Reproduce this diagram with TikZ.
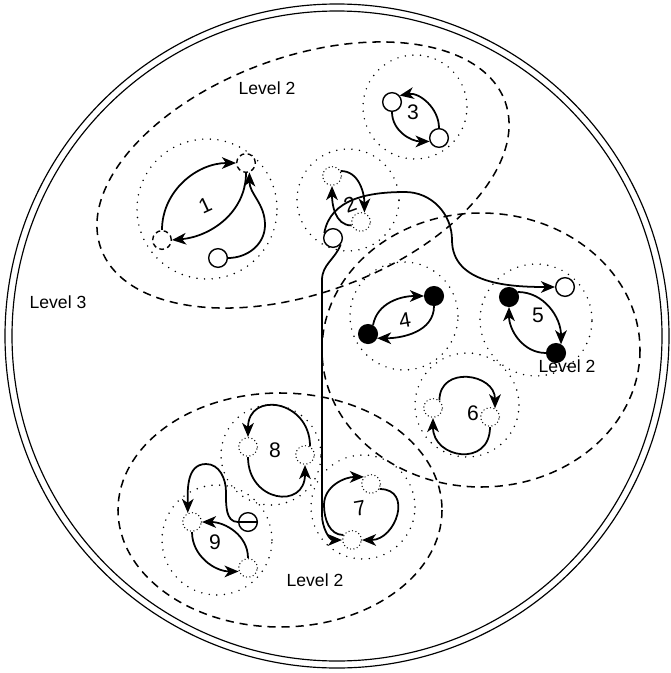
\documentclass[tikz,border=0pt]{standalone}
\usepackage{fontspec}
\setmainfont{Liberation Sans}
\usetikzlibrary{arrows.meta}

\begin{document}
\begin{tikzpicture}[x=0.3mm, y=-0.3mm,
    lvlRing/.style={draw, circle, line width=1.4pt, line cap=round, dash pattern=on 0pt off 6.5pt, minimum size=#1, inner sep=0pt},
    lvlProc/.style={draw, circle, line width=1.2pt, minimum size=5.6mm, inner sep=0pt, fill=white},
    lvlFull/.style={lvlProc, fill=black},
    lvlIdle/.style={lvlProc, line cap=round, dash pattern=on 0pt off 3pt},
    lvlGap/.style={lvlProc, dash pattern=on 4pt off 3pt},
    lvlCross/.style={lvlProc, path picture={\draw[line width=1.2pt] (path picture bounding box.west) -- (path picture bounding box.east);}},
    lvlNum/.style={font=\fontsize{18}{20}\selectfont},
    lvlText/.style={font=\fontsize{15}{18}\selectfont},
    lvlTwo/.style={line width=1.3pt, dash pattern=on 7pt off 5pt},
    lvlArrow/.style={-{Stealth[length=12pt, width=10pt, inset=3.5pt]}, line width=1.5pt}]

    \useasboundingbox (0,0) rectangle (670,673);

    \draw[line width=1pt] (337,336) circle [radius=332];
    \draw[line width=1pt] (337,336) circle [radius=325];
    \node[lvlText] (lvl3) at (58,302) {Level 3};

    \draw[lvlTwo, rotate around={20:(303,175)}] (303,175) ellipse [x radius=215, y radius=118];
    \draw[lvlTwo] (481,350) ellipse [x radius=159, y radius=137];
    \draw[lvlTwo] (280,510) ellipse [x radius=162, y radius=117];
    \node[lvlText] (lvl2a) at (267,88) {Level 2};
    \node[lvlText] (lvl2b) at (567,366) {Level 2};
    \node[lvlText] (lvl2c) at (315,580) {Level 2};

    \node[lvlRing=42mm] (c1) at (207,209) {};
    \node[lvlRing=30.6mm] (c2) at (348,200) {};
    \node[lvlRing=31.2mm] (c3) at (415,107) {};
    \node[lvlRing=32.4mm] (c4) at (404,316) {};
    \node[lvlRing=33.6mm] (c5) at (536,320) {};
    \node[lvlRing=31.2mm] (c6) at (467,405) {};
    \node[lvlRing=31.2mm] (c7) at (363,507) {};
    \node[lvlRing=30mm] (c8) at (271,455) {};
    \node[lvlRing=33mm] (c9) at (217,540) {};

    \node[lvlNum, rotate=25] (t1) at (205,205) {1};
    \node[lvlNum, rotate=20] (t2) at (350,205) {2};
    \node[lvlNum] (t3) at (413,112) {3};
    \node[lvlNum, rotate=10] (t4) at (405,320) {4};
    \node[lvlNum] (t5) at (538,315) {5};
    \node[lvlNum] (t6) at (473,413) {6};
    \node[lvlNum, rotate=10] (t7) at (360,508) {7};
    \node[lvlNum] (t8) at (275,450) {8};
    \node[lvlNum] (t9) at (215,542) {9};

    \node[lvlGap] (n1a) at (246,163) {};
    \node[lvlGap] (n1b) at (162,240) {};
    \node[lvlProc] (n1c) at (218,258) {};
    \node[lvlIdle] (n2a) at (332,176) {};
    \node[lvlIdle] (n2b) at (361,222) {};
    \node[lvlProc] (n2c) at (333,238) {};
    \node[lvlProc] (n3a) at (392,102) {};
    \node[lvlProc] (n3b) at (439,138) {};
    \node[lvlFull] (n4a) at (368,334) {};
    \node[lvlFull] (n4b) at (434,296) {};
    \node[lvlFull] (n5a) at (509,297) {};
    \node[lvlProc] (n5b) at (565,287) {};
    \node[lvlFull] (n5c) at (556,353) {};
    \node[lvlIdle] (n6a) at (433,408) {};
    \node[lvlIdle] (n6b) at (490,417) {};
    \node[lvlIdle] (n7a) at (371,484) {};
    \node[lvlIdle] (n7b) at (352,540) {};
    \node[lvlIdle] (n8a) at (248,447) {};
    \node[lvlIdle] (n8b) at (305,455) {};
    \node[lvlIdle] (n9a) at (192,522) {};
    \node[lvlIdle] (n9b) at (248,568) {};
    \node[lvlCross] (n9c) at (248,522) {};

    \draw[lvlArrow] (n1b.north) to[out=90, in=180] (n1a.west);
    \draw[lvlArrow] (n1a.south) to[out=-90, in=5] (n1b.east);
    \draw[lvlArrow] (n1c.east) to[out=0, in=-90] (265,225) to[out=90, in=-90] (n1a.-70);

    \draw[lvlArrow] (n2a.30) to[out=0, in=90] (n2b.70);
    \draw[lvlArrow] (n2b.200) to[out=180, in=-90] (n2a.south);
    \draw[lvlArrow] (n2c.150) to[out=80, in=180] (405,192) to[out=0, in=90] (452,240) to[out=-90, in=180] (n5b.west);
    \draw[lvlArrow] (n2c.-40) to[out=-110, in=90] (322,280) -- (322,515) to[out=-90, in=180] (n7b.west);

    \draw[lvlArrow] (n3b.north) to[out=90, in=10] (n3a.40);
    \draw[lvlArrow] (n3a.south) to[out=-90, in=180] (n3b.200);

    \draw[lvlArrow] (n4a.60) to[out=80, in=180] (n4b.west);
    \draw[lvlArrow] (n4b.south) to[out=-90, in=0] (n4a.-25);

    \draw[lvlArrow] (n5a.30) to[out=0, in=90] (n5c.60);
    \draw[lvlArrow] (n5c.west) to[out=180, in=-90] (n5a.south);

    \draw[lvlArrow] (n6a.50) to[out=90, in=90, looseness=1.6] (n6b.60);
    \draw[lvlArrow] (n6b.south) to[out=-90, in=-90, looseness=1.8] (n6a.south);

    \draw[lvlArrow] (n7b.150) to[out=180, in=-90] (324,505) to[out=90, in=180] (n7a.135);
    \draw[lvlArrow] (n7a.-30) to[out=0, in=0, looseness=1.6] (n7b.east);

    \draw[lvlArrow] (n8b.60) to[out=90, in=90, looseness=1.9] (n8a.north);
    \draw[lvlArrow] (n8a.south) to[out=-90, in=-90, looseness=2] (n8b.south);

    \draw[lvlArrow] (n9c.west) to[out=180, in=-90] (226,492) to[out=90, in=0] (206,464) to[out=180, in=90] (n9a.115);
    \draw[lvlArrow] (n9b.north) to[out=90, in=0] (n9a.east);
    \draw[lvlArrow] (n9a.south) to[out=-90, in=180] (n9b.200);
\end{tikzpicture}
\end{document}
